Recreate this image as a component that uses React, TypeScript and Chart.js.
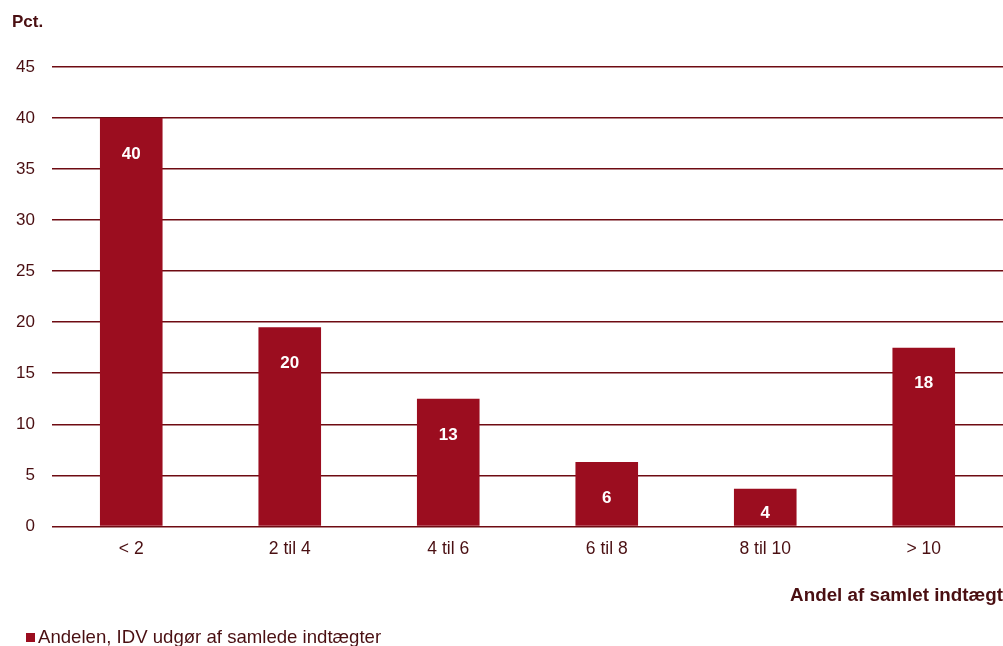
import React, { useEffect, useRef } from "react";
import { Chart, registerables } from "chart.js";

Chart.register(...registerables);

const categories = ["< 2", "2 til 4", "4 til 6", "6 til 8", "8 til 10", "> 10"];
const shareValues = [40, 19.5, 12.5, 6.3, 3.7, 17.5];
const seriesName = "Andelen, IDV udgør af samlede indtægter";
const yTicks = [0, 5, 10, 15, 20, 25, 30, 35, 40, 45];
const yUnit = "Pct.";
const xTitle = "Andel af samlet indtægt";

const BAR = "#9b0d1f";
const GRID = "#6e0b12";
const TEXT = "#4a0f12";
const FONT = "'Liberation Sans', Arial, sans-serif";

const valueLabels = {
  id: "valueLabels",
  afterDatasetsDraw(chart: any) {
    const ctx = chart.ctx;
    const meta = chart.getDatasetMeta(0);
    ctx.save();
    ctx.fillStyle = "#ffffff";
    ctx.font = `bold 17px ${FONT}`;
    ctx.textAlign = "center";
    ctx.textBaseline = "middle";
    meta.data.forEach((el: any, i: number) => {
      const top = el.y;
      const bottom = el.base;
      const y = Math.min(top + 36, bottom - 12);
      ctx.fillText(String(Math.round(shareValues[i])), el.x, y);
    });
    ctx.restore();
  },
};

const extraText = {
  id: "extraText",
  afterDraw(chart: any) {
    const ctx = chart.ctx;
    ctx.save();
    ctx.fillStyle = TEXT;
    ctx.font = `bold 17px ${FONT}`;
    ctx.textAlign = "left";
    ctx.textBaseline = "middle";
    ctx.fillText(yUnit, 12, 22);
    // legend
    const ds = chart.data.datasets[0];
    ctx.fillStyle = ds.backgroundColor;
    ctx.fillRect(26, 633, 9, 9);
    ctx.fillStyle = TEXT;
    ctx.font = `18.6px ${FONT}`;
    ctx.fillText(ds.label, 38, 638);
    ctx.restore();
  },
};

export default function App() {
  const ref = useRef<HTMLCanvasElement>(null);
  useEffect(() => {
    document.body.style.margin = "0";
    const chart = new Chart(ref.current!, {
      type: "bar",
      data: {
        labels: categories,
        datasets: [
          {
            label: seriesName,
            data: shareValues,
            backgroundColor: BAR,
            borderWidth: 0,
            barPercentage: 0.395,
            categoryPercentage: 1,
          },
        ],
      },
      options: {
        animation: false,
        responsive: false,
        layout: { padding: { top: 67, right: 0, left: 0, bottom: 0 } },
        plugins: {
          tooltip: { enabled: false },
          legend: { display: false },
        },
        scales: {
          x: {
            grid: { display: false },
            border: { display: false },
            ticks: {
              color: TEXT,
              font: { family: FONT, size: 17.5 },
              padding: 4,
            },
            title: {
              display: true,
              text: xTitle,
              align: "end",
              color: TEXT,
              font: { family: FONT, size: 18.8, weight: "bold" },
              padding: { top: 21, bottom: 39 },
            },
          },
          y: {
            min: 0,
            max: 45,
            afterFit(scale: any) {
              scale.width = 52;
            },
            afterBuildTicks(scale: any) {
              scale.ticks = yTicks.map((v) => ({ value: v }));
            },
            grid: { color: GRID, lineWidth: 1.6, drawTicks: false },
            border: { display: false },
            ticks: {
              color: TEXT,
              font: { family: FONT, size: 17 },
              padding: 17,
            },
          },
        },
      },
      plugins: [valueLabels, extraText],
    });
    return () => chart.destroy();
  }, []);
  return (
    <div style={{ position: "absolute", left: 0, top: 0 }}>
      <canvas ref={ref} width={1003} height={646} style={{ display: "block" }} />
    </div>
  );
}
